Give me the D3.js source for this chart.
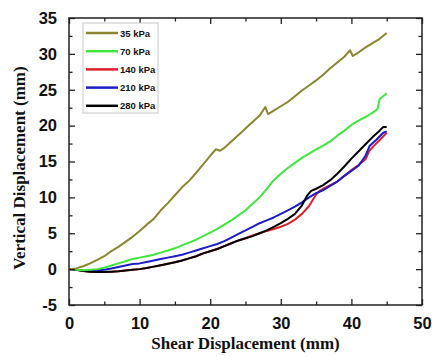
<!DOCTYPE html>
<html><head><meta charset="utf-8">
<script src="https://cdn.jsdelivr.net/npm/d3@7"></script>
<style>body{margin:0;background:#fff}svg{display:block}</style>
</head><body>
<script>
const seriesNames = ["35 kPa","70 kPa","140 kPa","210 kPa","280 kPa"];
const seriesColors = ["#8a8630","#3ee63e","#e0202a","#1c1cc8","#000000"];
const s35 = [[0,0],[1,0.1],[2,0.4],[3,0.8],[4,1.3],[5,1.8],[6,2.5],[7,3.1],[8,3.8],[9,4.5],[10,5.3],[11,6.2],[12,7.0],[13,8.2],[14,9.2],[15,10.3],[16,11.4],[17,12.3],[18,13.4],[19,14.6],[20,15.8],[20.8,16.7],[21.4,16.5],[22,16.9],[23,17.8],[24,18.7],[25,19.6],[26,20.5],[27,21.4],[27.8,22.6],[28.2,21.6],[29,22.1],[30,22.7],[31,23.3],[32,24.1],[33,24.9],[34,25.6],[35,26.3],[36,27.1],[37,28.0],[38,28.8],[39,29.6],[39.8,30.5],[40.2,29.7],[41,30.2],[42,30.9],[43,31.5],[44,32.1],[45,32.9]];
const s70 = [[0,0],[1,-0.1],[2,-0.15],[3,-0.1],[4,0],[5,0.2],[6,0.5],[7,0.8],[8,1.1],[9,1.4],[10,1.6],[11,1.8],[12,2.0],[13,2.3],[14,2.6],[15,2.9],[16,3.3],[17,3.7],[18,4.1],[19,4.6],[20,5.1],[21,5.6],[22,6.2],[23,6.8],[24,7.5],[25,8.2],[26,9.1],[27,10.0],[28,11.2],[29,12.4],[30,13.3],[31,14.1],[32,14.8],[33,15.5],[34,16.1],[35,16.7],[36,17.2],[37,17.8],[38,18.6],[39,19.3],[40,20.1],[41,20.7],[42,21.2],[43,21.8],[43.7,22.3],[44,23.7],[44.5,24.1],[45,24.5]];
const s140 = [[0,0],[1,-0.1],[2,-0.25],[3,-0.35],[4,-0.4],[5,-0.4],[6,-0.35],[7,-0.3],[8,-0.2],[9,-0.1],[10,0],[11,0.15],[12,0.35],[13,0.55],[14,0.75],[15,0.95],[16,1.2],[17,1.5],[18,1.8],[19,2.2],[20,2.5],[21,2.8],[22,3.2],[23,3.6],[24,4.0],[25,4.3],[26,4.7],[27,5.0],[28,5.3],[29,5.6],[30,5.9],[31,6.3],[32,6.9],[33,7.7],[34,8.8],[35,10.4],[35.5,10.9],[36,11.2],[37,11.7],[38,12.2],[39,13.0],[40,13.8],[41,14.5],[42,15.3],[42.5,16.4],[43,17.0],[44,18.0],[45,19.0]];
const s210 = [[0,0],[1,-0.1],[2,-0.2],[3,-0.25],[4,-0.2],[5,-0.1],[6,0.1],[7,0.3],[8,0.5],[9,0.7],[10,0.8],[11,1.0],[12,1.2],[13,1.4],[14,1.6],[15,1.8],[16,2.0],[17,2.3],[18,2.6],[19,2.9],[20,3.2],[21,3.5],[22,3.9],[23,4.4],[24,4.9],[25,5.4],[26,5.9],[27,6.4],[28,6.8],[29,7.2],[30,7.7],[31,8.2],[32,8.7],[33,9.3],[34,10.0],[35,10.6],[36,11.0],[37,11.6],[38,12.2],[39,13.0],[40,13.7],[41,14.4],[42,15.8],[42.6,17.2],[43.5,18.0],[44.5,19.0],[45,19.2]];
const s280 = [[0,0],[1,-0.1],[2,-0.25],[3,-0.35],[4,-0.4],[5,-0.4],[6,-0.35],[7,-0.3],[8,-0.2],[9,-0.1],[10,0],[11,0.15],[12,0.35],[13,0.55],[14,0.75],[15,0.95],[16,1.2],[17,1.5],[18,1.8],[19,2.2],[20,2.5],[21,2.8],[22,3.2],[23,3.6],[24,4.0],[25,4.3],[26,4.6],[27,5.0],[28,5.4],[29,5.9],[30,6.4],[31,7.0],[32,7.7],[33,8.9],[33.7,10.2],[34.3,10.9],[35,11.2],[36,11.7],[37,12.4],[38,13.3],[39,14.3],[40,15.4],[41,16.4],[42,17.4],[43,18.4],[44,19.3],[44.5,19.8],[45,19.8]];
const seriesData = [s35, s70, s140, s210, s280];
const xTicks = [0,10,20,30,40,50];
const yTicks = [-5,0,5,10,15,20,25,30,35];
const xMinor = [5,15,25,35,45];
const yMinor = [-2.5,2.5,7.5,12.5,17.5,22.5,27.5,32.5];

const W = 432, H = 356;
const m = {left:69, right:10, top:18, bottom:51};
const svg = d3.select("body").append("svg").attr("width",W).attr("height",H);
const x = d3.scaleLinear().domain([0,50]).range([m.left, W-m.right]);
const y = d3.scaleLinear().domain([-5,35]).range([H-m.bottom, m.top]);

const line = d3.line().x(d=>x(d[0])).y(d=>y(d[1]));
const plot = svg.append("g");
[2,3,4,1,0].forEach(i=>{
  plot.append("path").datum(seriesData[i]).attr("d",line)
    .attr("fill","none").attr("stroke",seriesColors[i]).attr("stroke-width",2)
    .attr("stroke-linejoin","round");
});

const tickFont = "Arial, 'Liberation Sans', sans-serif";
const fmt = d => String(d);
function styleAxis(g, showLabels){
  g.select(".domain").remove();
  g.selectAll(".tick line").attr("stroke","#222").attr("stroke-width",1.3);
  g.selectAll(".tick text").attr("font-family",tickFont).attr("font-weight","bold")
    .attr("font-size",16.5).attr("fill","#111");
  if(!showLabels) g.selectAll(".tick text").remove();
}
// bottom
svg.append("g").attr("transform",`translate(0,${y(-5)})`)
  .call(d3.axisBottom(x).tickValues(xTicks).tickSize(-6).tickPadding(12).tickFormat(fmt))
  .call(g=>styleAxis(g,true));
svg.append("g").attr("transform",`translate(0,${y(-5)})`)
  .call(d3.axisBottom(x).tickValues(xMinor).tickSize(-3.5).tickFormat(""))
  .call(g=>styleAxis(g,false));
// top
svg.append("g").attr("transform",`translate(0,${y(35)})`)
  .call(d3.axisTop(x).tickValues(xTicks).tickSize(-6).tickFormat(""))
  .call(g=>styleAxis(g,false));
svg.append("g").attr("transform",`translate(0,${y(35)})`)
  .call(d3.axisTop(x).tickValues(xMinor).tickSize(-3.5).tickFormat(""))
  .call(g=>styleAxis(g,false));
// left
svg.append("g").attr("transform",`translate(${x(0)},0)`)
  .call(d3.axisLeft(y).tickValues(yTicks).tickSize(-6).tickPadding(12).tickFormat(fmt))
  .call(g=>styleAxis(g,true));
svg.append("g").attr("transform",`translate(${x(0)},0)`)
  .call(d3.axisLeft(y).tickValues(yMinor).tickSize(-3.5).tickFormat(""))
  .call(g=>styleAxis(g,false));
// right
svg.append("g").attr("transform",`translate(${x(50)},0)`)
  .call(d3.axisRight(y).tickValues(yTicks).tickSize(-6).tickFormat(""))
  .call(g=>styleAxis(g,false));
svg.append("g").attr("transform",`translate(${x(50)},0)`)
  .call(d3.axisRight(y).tickValues(yMinor).tickSize(-3.5).tickFormat(""))
  .call(g=>styleAxis(g,false));

// frame
svg.append("rect").attr("x",x(0)).attr("y",y(35)).attr("width",x(50)-x(0)).attr("height",y(-5)-y(35))
  .attr("fill","none").attr("stroke","#222").attr("stroke-width",1.5);

// titles
const titleFont = "'Times New Roman', 'Liberation Serif', 'DejaVu Serif', serif";
svg.append("text").attr("x",(x(0)+x(50))/2).attr("y",349).attr("text-anchor","middle")
  .attr("font-family",titleFont).attr("font-weight","bold").attr("font-size",17).attr("fill","#111")
  .text("Shear Displacement (mm)");
svg.append("text").attr("transform",`translate(25,168) rotate(-90)`).attr("text-anchor","middle")
  .attr("font-family",titleFont).attr("font-weight","bold").attr("font-size",17).attr("fill","#111")
  .text("Vertical Displacement (mm)");

// legend
const lg = svg.append("g");
lg.append("rect").attr("x",83).attr("y",23).attr("width",75).attr("height",90)
  .attr("fill","#fff").attr("stroke","#c8c8c8").attr("stroke-width",1);
seriesNames.forEach((n,i)=>{
  const yy = 33 + i*18.2;
  lg.append("line").attr("x1",86).attr("x2",118).attr("y1",yy).attr("y2",yy)
    .attr("stroke",seriesColors[i]).attr("stroke-width",2.5);
  lg.append("text").attr("x",120).attr("y",yy+3.5).attr("font-family",tickFont).attr("font-weight","bold")
    .attr("font-size",9.5).attr("fill","#111").text(n);
});
</script>
</body></html>
